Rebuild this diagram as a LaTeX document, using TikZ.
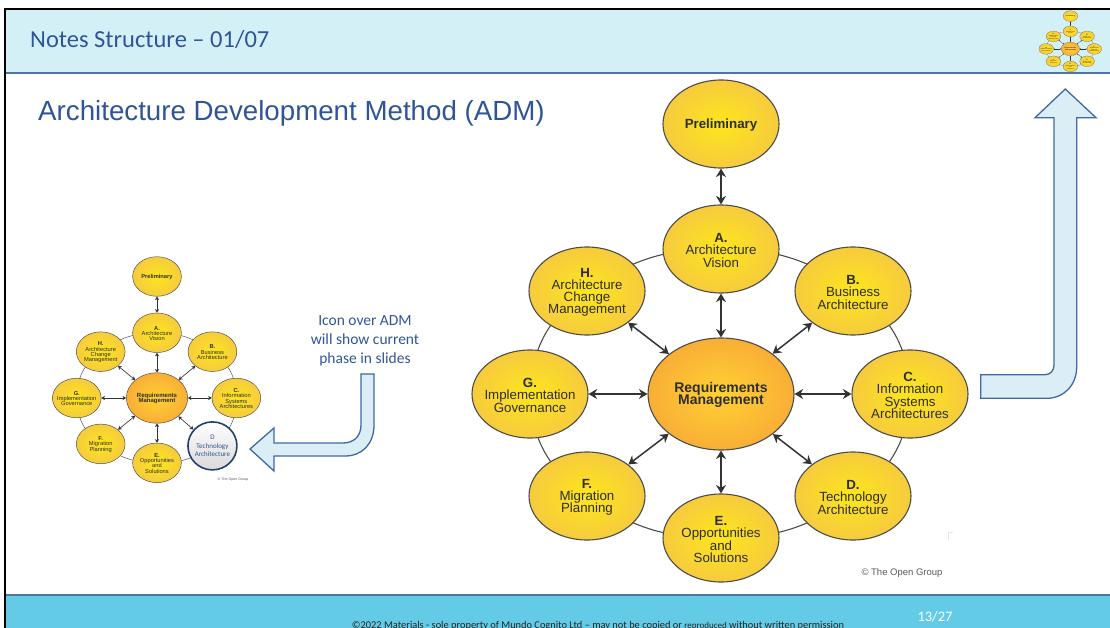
\documentclass[tikz,border=0pt]{standalone}
\usepackage{fontspec}
\setmainfont{Liberation Sans}
\newfontfamily\calib{Carlito}
\usetikzlibrary{arrows.meta,shapes.geometric}
\lineskiplimit=-20pt
\definecolor{hdrband}{HTML}{D3F0F7}
\definecolor{ftrband}{HTML}{64CBE6}
\definecolor{bandline}{HTML}{4F76A0}
\definecolor{titleblue}{HTML}{2F5597}
\definecolor{arrowfill}{HTML}{DCEEF5}
\definecolor{arrowline}{HTML}{3F68A6}
\definecolor{inktext}{HTML}{2E2E2E}
\definecolor{linkgray}{HTML}{333333}
\definecolor{nodein}{HTML}{FDE61C}
\definecolor{nodeout}{HTML}{F6CB3E}
\definecolor{reqin}{HTML}{FFD133}
\definecolor{reqout}{HTML}{F9AE36}
\pgfdeclarelayer{bands}
\pgfdeclarelayer{ring}
\pgfsetlayers{bands,ring,main}
\tikzset{
  admbase/.style={ellipse,draw=black!70,inner sep=\admi pt,align=center,text=inktext,line width=\admw pt,
    minimum width=\admrx pt,minimum height=\admry pt},
  admnode/.style={admbase,inner color=nodein,outer color=nodeout},
  admreq/.style={admbase,inner color=reqin,outer color=reqout,
    minimum width=\admqx pt,minimum height=\admqy pt},
  admlink/.style={linkgray,line width=\admk pt,{Stealth[length=\admh pt,width=\admj pt]}-{Stealth[length=\admh pt,width=\admj pt]}},
  admring/.style={black!70,line width=\admw pt},
  admshort/.style={admring,bend left=18},
  admlong/.style={admring,bend left=27},
  bendarrow/.style={draw=arrowline,fill=arrowfill,line width=1.3pt,line join=miter},
  calibtext/.style={font=\calib,text=titleblue,align=center},
  currentphase/.style={ellipse,draw=titleblue!75!black,line width=1.6pt,top color=white,bottom color=black!15,
    inner sep=-6pt,align=center,minimum width=49pt,minimum height=48pt,yshift=-2pt,text=titleblue,
    font=\calib\fontsize{7}{8.6}\selectfont}
}
% prefix, cx, cy, sx, sy, font scale, style of D, text of D
\newcommand{\admdiagram}[8]{%
  \pgfmathsetmacro{\admrx}{116*#4}\pgfmathsetmacro{\admry}{88*#5}%
  \pgfmathsetmacro{\admqx}{146*#4}\pgfmathsetmacro{\admqy}{112*#5}%
  \pgfmathsetmacro{\admw}{1.1*#6}\pgfmathsetmacro{\admk}{1.5*#6}\pgfmathsetmacro{\admh}{8.5*#6}\pgfmathsetmacro{\admj}{10*#6}%
  \pgfmathsetmacro{\admi}{-14*#6}\pgfmathsetmacro{\admu}{12*#6}%
  \pgfmathsetmacro{\admf}{13.3*#6}\pgfmathsetmacro{\adml}{12.2*#6}\pgfmathsetmacro{\admc}{14*#6}\pgfmathsetmacro{\admd}{12.4*#6}%
  \def\admup{\rule{0pt}{\admu pt}}%
  \begin{scope}[shift={(#2,#3)},x=#4pt,y=-#5pt,
      every node/.append style={font=\fontsize{\admf}{\adml}\selectfont}]
    \node[admnode] (#1P) at (0,-270) {\admup\textbf{Preliminary}};
    \node[admnode] (#1A) at (0,-145) {\admup\textbf{A.}\\Architecture\\Vision};
    \node[admnode] (#1B) at (132,-103) {\admup\textbf{B.}\\Business\\Architecture};
    \node[admnode] (#1C) at (189,0) {\admup\textbf{C.}\\Information\\Systems\\Architectures};
    \node[#7] (#1D) at (132,102) {#8};
    \node[admnode] (#1E) at (0,144) {\admup\textbf{E.}\\Opportunities\\and\\Solutions};
    \node[admnode] (#1F) at (-134,102) {\admup\textbf{F.}\\Migration\\Planning};
    \node[admnode] (#1G) at (-191,0) {\admup\textbf{G.}\\Implementation\\Governance};
    \node[admnode] (#1H) at (-134,-103) {\admup\textbf{H.}\\Architecture\\Change\\Management};
    \node[admreq,font=\bfseries\fontsize{\admc}{\admd}\selectfont] (#1R) at (0,0) {\admup Requirements\\Management};
    \draw[admlink] (#1P) -- (#1A);
    \foreach \admn in {A,B,C,D,E,F,G,H}{\draw[admlink] (#1R) -- (#1\admn);}
    \begin{pgfonlayer}{ring}
      \draw[admshort] (#1A.center) to (#1B.center);
      \draw[admlong] (#1B.center) to (#1C.center);
      \draw[admlong] (#1C.center) to (#1D.center);
      \draw[admshort] (#1D.center) to (#1E.center);
      \draw[admshort] (#1E.center) to (#1F.center);
      \draw[admlong] (#1F.center) to (#1G.center);
      \draw[admlong] (#1G.center) to (#1H.center);
      \draw[admshort] (#1H.center) to (#1A.center);
    \end{pgfonlayer}
  \end{scope}}
\begin{document}
\begin{tikzpicture}[x=1pt,y=-1pt]
\path[use as bounding box] (0,0) rectangle (1110,628);
\begin{pgfonlayer}{bands}
  \fill[hdrband] (5,9) rectangle (1110,73);
  \fill[ftrband] (5,595) rectangle (1110,628);
  \draw[bandline,line width=1.4pt] (5,73) -- (1110,73);
  \draw[bandline,line width=1.4pt] (5,595) -- (1110,595);
  \draw[black,line width=2.2pt] (5,628) -- (5,9) -- (1110,9);
\end{pgfonlayer}
\node[calibtext,anchor=west,font=\calib\fontsize{24.5}{28}\selectfont,inner sep=0pt] (hdr) at (30,40) {Notes Structure – 01/07};
\node[anchor=west,text=titleblue,font=\fontsize{27.7}{30}\selectfont,inner sep=0pt] (ttl) at (38,113) {Architecture Development Method (ADM)};
\node[calibtext,font=\calib\fontsize{15.5}{19}\selectfont] (note) at (365,341) {Icon over ADM\\will show current\\phase in slides};
\node[text=black!65,font=\fontsize{9.5}{11}\selectfont,inner sep=0pt] (cpy) at (902,573) {© The Open Group};
\node[text=black!65,font=\fontsize{3.6}{4}\selectfont,inner sep=0pt] (cpys) at (233,480) {© The Open Group};
\begin{scope}
  \clip (0,0) rectangle (1110,628);
  \node[font=\calib\fontsize{10.4}{12}\selectfont,text=black!85,inner sep=0pt] (ftr) at (598,625.5)
    {©2022 Materials - sole property of Mundo Cognito Ltd – may not be copied or {\fontsize{9}{12}\selectfont reproduced} without written permission};
\end{scope}
\node[font=\calib\fontsize{14.5}{16}\selectfont,text=white,inner sep=0pt] (pg) at (935,617) {13/27};
\admdiagram{m}{721}{394}{1}{1}{1}{admnode}{\admup\textbf{D.}\\Technology\\Architecture}
\admdiagram{s}{157}{398}{0.42}{0.45}{0.43}{currentphase}{D\\Technology\\Architecture}
\admdiagram{i}{1070.4}{48.9}{0.1265}{0.1215}{0.125}{admnode}{\admup\textbf{D.}\\Technology\\Architecture}
% bent arrows
\draw[bendarrow] (361,374) -- (374,374) -- (374,425) .. controls (374,444) and (362,456) .. (345,456)
  -- (274,456) -- (274,471) -- (250,449) -- (274,428) -- (274,443) -- (343,443)
  .. controls (354,443) and (361,436) .. (361,425) -- cycle;
\draw[bendarrow] (980.7,374.7) -- (1045,374.7) .. controls (1050.5,374.7) and (1054,370.5) .. (1054,365)
  -- (1054,117.7) -- (1035,117.7) -- (1065.3,89) -- (1096,117.7) -- (1076.7,117.7) -- (1076.7,366.7)
  .. controls (1076.7,385) and (1064,398.3) .. (1046.7,398.3) -- (980.7,398.3) -- cycle;
\draw[black!10,line width=0.6pt] (948,540) -- (948,532.5) -- (953,532.5);
\end{tikzpicture}
\end{document}
